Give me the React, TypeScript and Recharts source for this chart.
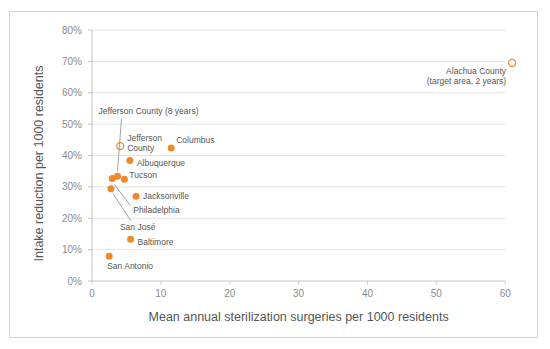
import { ScatterChart, Scatter, XAxis, YAxis, ReferenceLine, Label } from 'recharts';

const cities = [
  'Alachua County',
  'Jefferson County',
  'Columbus',
  'Albuquerque',
  'Tucson',
  'Jefferson County (8 years)',
  'Philadelphia',
  'San José',
  'Jacksonville',
  'Baltimore',
  'San Antonio',
];
const surgeries = [61.0, 4.1, 11.5, 5.5, 4.7, 3.7, 2.95, 2.75, 6.4, 5.6, 2.5];
const reduction = [69.5, 43.0, 42.4, 38.4, 32.4, 33.4, 32.7, 29.4, 27.0, 13.3, 7.9];
const hollow = [true, true, false, false, false, false, false, false, false, false, false];
const labelLines = [
  ['Alachua County', '(target area, 2 years)'],
  ['Jefferson', 'County'],
  ['Columbus'],
  ['Albuquerque'],
  ['Tucson'],
  ['Jefferson County (8 years)'],
  ['Philadelphia'],
  ['San José'],
  ['Jacksonville'],
  ['Baltimore'],
  ['San Antonio'],
];
const xTicks = [0, 10, 20, 30, 40, 50, 60];
const yTicks = [0, 10, 20, 30, 40, 50, 60, 70, 80];

// label placement relative to the dot (pixels)
type Place = { dx: number; dy: number; anchor?: 'start' | 'end'; leader?: [number, number, number, number] };
const placement: Record<string, Place> = {
  'Alachua County': { dx: -6, dy: 8, anchor: 'end' },
  'Jefferson County': { dx: 7, dy: -8 },
  Columbus: { dx: 5, dy: -8 },
  Albuquerque: { dx: 7, dy: 2 },
  Tucson: { dx: 5, dy: -4 },
  'Jefferson County (8 years)': { dx: -19, dy: -65, leader: [0, -5, 4, -57] },
  Philadelphia: { dx: 21, dy: 32, leader: [2, 6, 18, 27] },
  'San José': { dx: 9, dy: 38, leader: [2, 5, 20, 32] },
  Jacksonville: { dx: 7, dy: 0 },
  Baltimore: { dx: 7, dy: 3 },
  'San Antonio': { dx: -2, dy: 10 },
};

const ORANGE = '#EF8A2B';
const FONT = '"Liberation Sans", Arial, Helvetica, sans-serif';

const data = cities.map((name, i) => ({
  name,
  x: surgeries[i],
  y: reduction[i],
  hollow: hollow[i],
  lines: labelLines[i],
}));

function Dot(props: any) {
  const { cx, cy, payload } = props;
  const p = placement[payload.name] || { dx: 6, dy: 0 };
  return (
    <g>
      {p.leader && (
        <line
          x1={cx + p.leader[0]}
          y1={cy + p.leader[1]}
          x2={cx + p.leader[2]}
          y2={cy + p.leader[3]}
          stroke="#8a8a8a"
          strokeWidth={0.8}
        />
      )}
      <circle
        cx={cx}
        cy={cy}
        r={3.5}
        fill={payload.hollow ? '#fff' : ORANGE}
        stroke={ORANGE}
        strokeWidth={payload.hollow ? 1.3 : 0}
      />
      <text
        x={cx + p.dx}
        y={cy + p.dy}
        textAnchor={p.anchor || 'start'}
        fontSize={8.5}
        fill="#555"
        fontFamily={FONT}
      >
        {payload.lines.map((l: string, k: number) => (
          <tspan key={k} x={cx + p.dx} dy={k === 0 ? 3 : 10}>
            {l}
          </tspan>
        ))}
      </text>
    </g>
  );
}

export default function App() {
  return (
    <div style={{ position: 'relative', width: 550, height: 349, fontFamily: FONT }}>
      <style>{`body{margin:0}`}</style>
      <div
        style={{
          position: 'absolute',
          left: 9,
          top: 11,
          width: 529,
          height: 327,
          boxSizing: 'border-box',
          border: '1px solid #d2d2d2',
        }}
      />
      <div style={{ position: 'absolute', left: 0, top: 0 }}>
        <ScatterChart width={550} height={349} margin={{ top: 30, right: 31, left: 8, bottom: 24 }}>
          <XAxis
            type="number"
            dataKey="x"
            domain={[0, 62]}
            ticks={xTicks}
            axisLine={false}
            tickLine={{ stroke: '#d0d0d0' }}
            tickSize={4}
            tickMargin={5}
            height={44}
            tick={{ fill: '#8a8a8a', fontSize: 10, fontFamily: FONT }}
          >
            <Label
              content={({ viewBox }: any) => (
                <text
                  x={viewBox.x + (viewBox.width * 60) / 62 / 2}
                  y={viewBox.y + 36}
                  textAnchor="middle"
                  dominantBaseline="central"
                  fontSize={12.5}
                  fill="#555"
                  fontFamily={FONT}
                >
                  Mean annual sterilization surgeries per 1000 residents
                </text>
              )}
            />
          </XAxis>
          <YAxis
            type="number"
            dataKey="y"
            domain={[0, 80]}
            ticks={yTicks}
            width={84}
            axisLine={{ stroke: '#c4c4c4' }}
            tickLine={{ stroke: '#c4c4c4' }}
            tickSize={4}
            tickMargin={6}
            tickFormatter={(v: number) => `${v}%`}
            tick={{ fill: '#8a8a8a', fontSize: 10, fontFamily: FONT }}
          >
            <Label
              content={({ viewBox }: any) => {
                const cx = viewBox.x + 31;
                const cy = viewBox.y + viewBox.height / 2 + 8;
                return (
                  <text
                    x={cx}
                    y={cy}
                    transform={`rotate(-90 ${cx} ${cy})`}
                    textAnchor="middle"
                    dominantBaseline="central"
                    fontSize={12.5}
                    fill="#555"
                    fontFamily={FONT}
                  >
                    Intake reduction per 1000 residents
                  </text>
                );
              }}
            />
          </YAxis>
          {yTicks.map((t) => (
            <ReferenceLine
              key={t}
              segment={[
                { x: 0, y: t },
                { x: 60, y: t },
              ]}
              stroke={t === 0 ? '#c4c4c4' : '#e2e2e2'}
              strokeWidth={1}
            />
          ))}
          <Scatter data={data} isAnimationActive={false} shape={Dot} />
        </ScatterChart>
      </div>
    </div>
  );
}
